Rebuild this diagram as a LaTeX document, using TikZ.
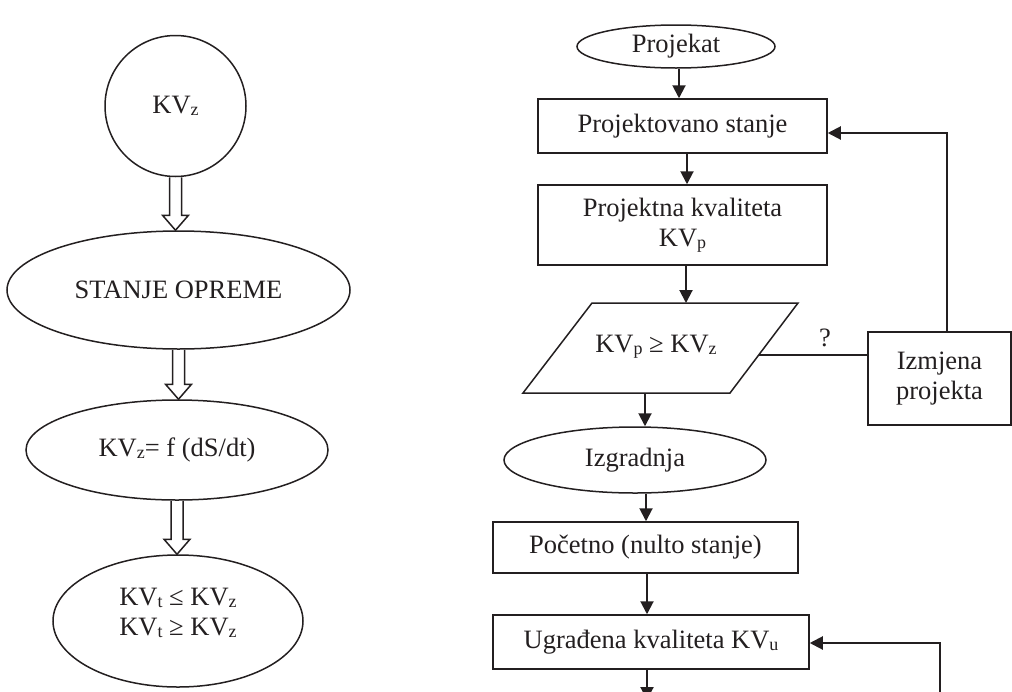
\documentclass[tikz,border=0pt]{standalone}
\usepackage{fontspec}
\setmainfont{Liberation Serif}
\usetikzlibrary{shapes.geometric,arrows.meta,calc}
\definecolor{ink}{RGB}{35,31,32}
\newcommand\sbx[1]{\raisebox{-0.07em}{\fontsize{18}{18}\selectfont #1}}
\newcommand\hollowarr[2]{%
  \draw[shp] let \p1=(#1), \p2=(#2) in
    (\x1-6pt,\y1) -- (\x1-6pt,\y2+15pt) -- (\x1-13pt,\y2+15pt) -- (\x1,\y2)
    -- (\x1+13pt,\y2+15pt) -- (\x1+6pt,\y2+15pt) -- (\x1+6pt,\y1);}
\begin{document}
\begin{tikzpicture}[x=1pt,y=-1pt,
  every node/.style={font=\fontsize{26.5}{30}\selectfont, text=ink},
  shp/.style={draw=ink, line width=1.5pt},
  boxn/.style={shp, rectangle, inner sep=0pt},
  elln/.style={shp, ellipse, inner sep=0pt},
  arr/.style={draw=ink, line width=2pt, -{Triangle[length=13pt,width=13pt]}},
  conn/.style={draw=ink, line width=2pt}]
\useasboundingbox (0,0) rectangle (1012,691);

% left column
\node[shp,circle,minimum size=141pt,inner sep=0pt] (kvz) at (175.5,106) {KV\sbx{z}};
\node[elln,minimum width=343pt,minimum height=118pt] (stanje) at (178.5,290) {STANJE OPREME};
\node[elln,minimum width=302pt,minimum height=100pt] (fz) at (177,450) {KV\sbx{z}= f (dS/dt)};
\node[elln,minimum width=250pt,minimum height=132pt] (kvt) at (178,621) {};
\node[align=center,inner sep=0pt] (kvttxt) at (178,613) {KV\sbx{t} ≤ KV\sbx{z}\\KV\sbx{t} ≥ KV\sbx{z}};

\hollowarr{kvz.south}{stanje.north}
\hollowarr{stanje.south}{fz.north}
\hollowarr{fz.south}{kvt.north}

% right column
\node[elln,minimum width=198pt,minimum height=43pt] (proj) at (676,46.5) {Projekat};
\node[boxn,minimum width=289pt,minimum height=54pt] (ps) at (682.5,126) {Projektovano stanje};
\node[boxn,minimum width=289pt,minimum height=80pt,align=center] (pk) at (682.5,225) {Projektna kvaliteta\\KV\sbx{p}};

\coordinate (pa) at (592,303);
\coordinate (pb) at (798,303);
\coordinate (pc) at (730,393);
\coordinate (pd) at (523,393);
\draw[shp] (pa) -- (pb) -- (pc) -- (pd) -- cycle;
\node (par) at (656,347) {KV\sbx{p} ≥ KV\sbx{z}};
\coordinate (partop) at (686,303);
\coordinate (parbot) at (645,393);
\coordinate (parR) at (758.5,355);

\node[boxn,minimum width=143pt,minimum height=93pt,align=center] (izm) at (939.5,378.5) {Izmjena\\projekta};
\node (q) at (825,338) {?};

\node[elln,minimum width=262pt,minimum height=66pt] (izg) at (635,460) {Izgradnja};
\node[boxn,minimum width=305pt,minimum height=51pt] (poc) at (645.5,547.5) {Početno (nulto stanje)};
\node[boxn,minimum width=316pt,minimum height=54pt] (ugr) at (651,642) {Ugrađena kvaliteta KV\sbx{u}};

\coordinate (outc) at (647,700);
\coordinate (fbin) at (940,700);

\draw[arr] ([xshift=3pt]proj.south) -- ([xshift=-3.5pt]ps.north);
\draw[arr] ([xshift=4.5pt]ps.south) -- ([xshift=4.5pt]pk.north);
\draw[arr] ([xshift=3.5pt]pk.south) -- (partop);
\draw[arr] (parbot) -- ([xshift=10pt]izg.north);
\draw[arr] ([xshift=11pt]izg.south) -- ([xshift=0.5pt]poc.north);
\draw[arr] ([xshift=1.5pt]poc.south) -- ([xshift=-4pt]ugr.north);
\draw[arr] ([xshift=-4pt]ugr.south) -- (outc);
\draw[conn] (parR) -- (parR -| izm.west);
\draw[arr] ([xshift=7.5pt]izm.north) |- ([yshift=-7pt]ps.east);
\draw[arr] (fbin) |- ([yshift=-1pt]ugr.east);
\end{tikzpicture}
\end{document}
